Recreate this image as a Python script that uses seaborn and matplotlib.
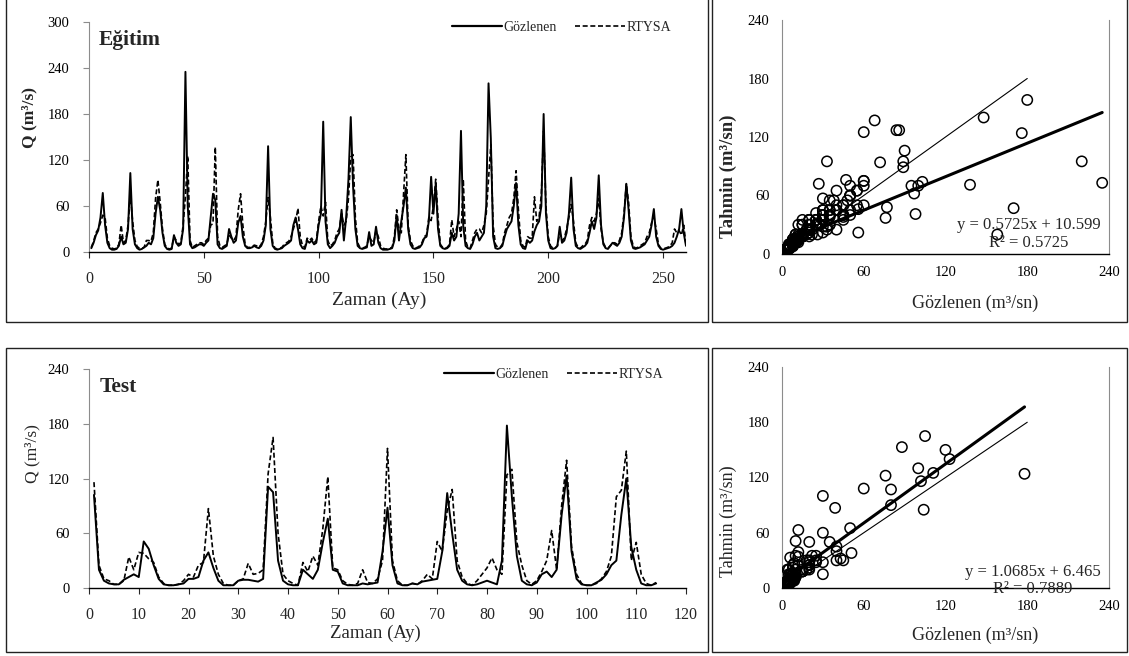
import numpy as np
import pandas as pd
import seaborn as sns
import matplotlib.pyplot as plt
from matplotlib.lines import Line2D
from matplotlib.patches import Rectangle

# Egitim (training) monthly flows, months 1-260
obs_egitim = [
    5, 12, 22, 28, 45, 77, 35, 12, 5, 3, 3, 4,
    8, 20, 10, 12, 30, 103, 30, 10, 5, 3, 4, 6,
    8, 12, 10, 18, 50, 72, 55, 25, 8, 4, 3, 4,
    22, 12, 8, 10, 30, 235, 60, 10, 5, 6, 8, 10,
    10, 8, 12, 15, 45, 76, 68, 10, 5, 4, 6, 8,
    30, 20, 12, 15, 38, 47, 20, 8, 5, 5, 6, 8,
    6, 5, 8, 15, 35, 138, 30, 8, 4, 3, 4, 5,
    8, 10, 12, 15, 35, 45, 30, 10, 5, 4, 15, 12,
    15, 10, 12, 35, 50, 170, 40, 10, 5, 8, 12, 20,
    25, 55, 15, 45, 95, 176, 86, 30, 8, 5, 4, 5,
    6, 26, 8, 10, 33, 12, 5, 3, 3, 3, 4, 5,
    15, 48, 15, 40, 60, 84, 30, 10, 5, 4, 5, 6,
    10, 18, 20, 40, 98, 50, 89, 30, 8, 5, 4, 5,
    8, 25, 15, 20, 50, 158, 33, 8, 5, 4, 10, 20,
    25, 15, 20, 25, 60, 220, 148, 20, 5, 4, 5, 8,
    20, 30, 35, 40, 60, 90, 35, 10, 5, 4, 15, 12,
    15, 27, 35, 40, 60, 180, 50, 15, 5, 4, 5, 8,
    33, 12, 15, 25, 50, 97, 30, 8, 5, 4, 6, 8,
    12, 25, 40, 30, 45, 100, 35, 10, 5, 4, 8, 12,
    10, 8, 12, 20, 45, 89, 55, 15, 5, 4, 5, 6,
    8, 10, 15, 20, 35, 56, 20, 8, 4, 3, 4, 5,
    6, 8, 12, 20, 30, 56, 25, 8,
]
pred_egitim = [
    6, 14, 25, 30, 38, 48, 45, 18, 8, 5, 4, 5,
    10, 35, 12, 15, 35, 74, 40, 15, 7, 5, 5, 6,
    15, 15, 14, 25, 70, 94, 65, 30, 10, 5, 4, 5,
    20, 15, 10, 12, 35, 73, 125, 15, 6, 8, 10, 12,
    12, 10, 15, 18, 35, 37, 137, 20, 8, 6, 8, 10,
    22, 18, 15, 20, 55, 76, 35, 10, 6, 6, 7, 9,
    8, 6, 10, 20, 40, 71, 45, 12, 5, 4, 5, 6,
    10, 12, 14, 20, 30, 40, 57, 20, 8, 6, 18, 15,
    18, 12, 15, 40, 60, 47, 65, 15, 8, 10, 15, 25,
    30, 50, 35, 40, 70, 124, 127, 45, 12, 6, 5, 6,
    8, 20, 15, 12, 28, 20, 8, 5, 4, 4, 5, 6,
    20, 55, 30, 25, 75, 127, 35, 15, 8, 5, 6, 8,
    12, 20, 22, 45, 41, 60, 95, 45, 10, 6, 5, 6,
    10, 42, 20, 30, 40, 20, 95, 15, 6, 5, 15, 25,
    30, 30, 25, 35, 50, 95, 140, 35, 10, 6, 6, 10,
    25, 35, 45, 50, 70, 106, 55, 15, 8, 6, 20, 18,
    18, 72, 40, 45, 75, 158, 60, 20, 8, 5, 5, 8,
    25, 15, 18, 30, 45, 62, 40, 12, 6, 5, 8, 10,
    15, 35, 45, 40, 50, 70, 30, 12, 6, 5, 8, 12,
    12, 10, 15, 25, 50, 89, 65, 20, 8, 5, 6, 8,
    10, 12, 20, 25, 38, 46, 30, 10, 5, 4, 5, 6,
    8, 12, 30, 25, 28, 22, 35, 10,
]

# Test monthly flows, months 1-114
obs_test = [
    102, 20, 8, 5, 4, 4, 9, 12, 15, 12, 51, 43,
    25, 10, 4, 3, 3, 4, 5, 10, 10, 12, 30, 39,
    22, 8, 3, 3, 3, 8, 9, 9, 8, 7, 10, 111,
    105, 30, 8, 4, 3, 3, 20, 15, 10, 20, 50, 76,
    20, 18, 5, 3, 3, 3, 5, 4, 5, 6, 40, 88,
    25, 5, 3, 3, 5, 4, 7, 8, 9, 10, 40, 104,
    60, 20, 8, 4, 3, 4, 6, 8, 6, 4, 30, 178,
    100, 35, 8, 4, 3, 6, 15, 18, 12, 20, 80, 123,
    40, 10, 4, 3, 3, 6, 9, 15, 25, 30, 80, 120,
    45, 20, 5, 3, 3, 5,
]
pred_test = [
    116, 25, 10, 8, 4, 4, 8, 34, 20, 39, 38, 32,
    28, 12, 5, 3, 3, 4, 8, 15, 12, 25, 28, 87,
    35, 15, 5, 3, 3, 8, 10, 27, 15, 16, 20, 125,
    165, 60, 15, 8, 5, 3, 28, 18, 35, 25, 65, 122,
    22, 20, 8, 4, 3, 5, 20, 6, 5, 10, 30, 153,
    30, 8, 3, 3, 5, 4, 8, 15, 10, 51, 40, 85,
    108, 30, 12, 5, 3, 8, 15, 22, 33, 20, 15, 124,
    130, 50, 25, 8, 4, 8, 18, 30, 63, 20, 90, 140,
    45, 15, 5, 3, 3, 5, 10, 18, 35, 100, 107, 150,
    30, 50, 15, 5, 3, 6,
]

# trendline coefficients shown on the scatter panels
fit_egitim = (0.5725, 10.599, 0.5725)
fit_test = (1.0685, 6.465, 0.7889)

df_e = pd.DataFrame({"ay": np.arange(1, len(obs_egitim) + 1),
                     "Gozlenen": obs_egitim, "RTYSA": pred_egitim})
df_t = pd.DataFrame({"ay": np.arange(1, len(obs_test) + 1),
                     "Gozlenen": obs_test, "RTYSA": pred_test})

sns.set_style("white")
plt.rcParams['font.family'] = ['Liberation Serif', 'DejaVu Serif']

W, H = 1129, 656
fig = plt.figure(figsize=(W / 100, H / 100), dpi=100)


def axes_px(l, t, r, b):
    return fig.add_axes([l / W, 1 - b / H, (r - l) / W, (b - t) / H])


def frame_px(l, t, r, b):
    fig.add_artist(Rectangle((l / W, 1 - b / H), (r - l) / W, (b - t) / H,
                             transform=fig.transFigure, fill=False,
                             lw=1.0, ec='#222222'))


def style_axes(ax, scatter=False):
    for s in ['top', 'right', 'left', 'bottom']:
        ax.spines[s].set_visible(False)
    ax.spines['left'].set_visible(True)
    ax.spines['left'].set_color('#8c8c8c')
    ax.spines['left'].set_linewidth(0.8)
    ax.spines['bottom'].set_visible(True)
    ax.spines['bottom'].set_color('black')
    ax.spines['bottom'].set_linewidth(1.0)
    if scatter:
        ax.spines['right'].set_visible(True)
        ax.spines['right'].set_color('#8c8c8c')
        ax.spines['right'].set_linewidth(0.8)
        ax.tick_params(axis='both', length=0, labelsize=10.5, colors='black')
        ax.tick_params(axis='x', pad=9)
        ax.tick_params(axis='y', pad=9)
    else:
        ax.tick_params(axis='x', length=4, width=0.8, pad=10, labelsize=11.5,
                       direction='out', bottom=True)
        ax.tick_params(axis='y', length=4, width=0.8, pad=10, labelsize=10.5,
                       direction='out', left=True, color='#8c8c8c',
                       labelcolor='black')
    ax.set_xlabel('')
    ax.set_ylabel('')


def series_panel(ax, df, xmax, ymax, xstep, title, leg_x):
    sns.lineplot(data=df, x="ay", y="Gozlenen", color='black', lw=1.4, ax=ax)
    sns.lineplot(data=df, x="ay", y="RTYSA", color='black', lw=1.2,
                 linestyle=(0, (3, 1.6)), ax=ax)
    ax.set_xlim(0, xmax)
    ax.set_ylim(0, ymax)
    ax.set_xticks(np.arange(0, xmax + 1, xstep))
    ax.set_yticks(np.arange(0, ymax + 1, 60))
    style_axes(ax)
    ax.text(0.017, 0.92, title, transform=ax.transAxes, fontsize=15.5,
            fontweight='bold', va='center', ha='left')
    handles = [Line2D([], [], color='black', lw=1.6),
               Line2D([], [], color='black', lw=1.2, linestyle=(0, (3, 1.6)))]
    ax.legend(handles, ['Gözlenen', 'RTYSA'], loc='upper right',
              bbox_to_anchor=(leg_x, 1.005), ncol=2, frameon=False,
              fontsize=10, handlelength=3.6, handletextpad=0.1,
              columnspacing=1.3, borderaxespad=0, borderpad=0)


def scatter_panel(ax, df, fit, text_x, text_y):
    sns.scatterplot(data=df, x="Gozlenen", y="RTYSA", marker='o', s=55,
                    facecolors='none', edgecolor='black', linewidth=1.1,
                    ax=ax, zorder=3)
    slope, intercept, r2 = fit
    xs = np.array([min(df["Gozlenen"]), max(df["Gozlenen"])])
    ax.plot(xs, slope * xs + intercept, color='black', lw=2.2, zorder=4)
    ax.plot([0, 180], [0, 180], color='black', lw=0.8, zorder=4)
    ax.set_xlim(0, 240)
    ax.set_ylim(0, 240)
    ax.set_xticks(np.arange(0, 241, 60))
    ax.set_yticks(np.arange(0, 241, 60))
    style_axes(ax, scatter=True)
    ax.text(text_x, text_y[0], f"y = {slope}x + {intercept}", fontsize=12,
            ha='center', va='center', zorder=5, clip_on=False)
    ax.text(text_x, text_y[1], f"R² = {r2}", fontsize=12,
            ha='center', va='center', zorder=5, clip_on=False)


# panel frames
frame_px(6, -5, 708, 322)
frame_px(712, -5, 1127, 322)
frame_px(6, 348, 708, 652)
frame_px(712, 348, 1127, 652)

# Egitim time series
ax1 = axes_px(89, 22, 686, 252)
series_panel(ax1, df_e, 260, 300, 50, 'Eğitim', 0.975)
fig.text(379 / W, 1 - 300 / H, 'Zaman (Ay)', fontsize=14, ha='center', va='center')
fig.text(29 / W, 1 - 118 / H, 'Q (m³/s)', fontsize=12.5, fontweight='bold',
         rotation=90, ha='center', va='center')

# Egitim scatter
ax2 = axes_px(782, 20, 1109, 254)
scatter_panel(ax2, df_e, fit_egitim, 181, (29.7, 11.3))
fig.text(975 / W, 1 - 303 / H, 'Gözlenen (m³/sn)', fontsize=13, ha='center', va='center')
fig.text(728 / W, 1 - 176 / H, 'Tahmin (m³/sn)', fontsize=13.5, fontweight='bold',
         rotation=90, ha='center', va='center')

# Test time series
ax3 = axes_px(89, 369, 686, 588)
series_panel(ax3, df_t, 120, 240, 10, 'Test', 0.962)
fig.text(375 / W, 1 - 633 / H, 'Zaman (Ay)', fontsize=13.5, ha='center', va='center')
fig.text(32 / W, 1 - 454 / H, 'Q (m³/s)', fontsize=12.5,
         rotation=90, ha='center', va='center')

# Test scatter
ax4 = axes_px(782, 367, 1109, 588)
scatter_panel(ax4, df_t, fit_test, 184, (17.7, -1.0))
fig.text(975 / W, 1 - 635 / H, 'Gözlenen (m³/sn)', fontsize=13, ha='center', va='center')
fig.text(728 / W, 1 - 521 / H, 'Tahmin (m³/sn)', fontsize=13,
         rotation=90, ha='center', va='center')

fig.savefig('out.png', dpi=100)
